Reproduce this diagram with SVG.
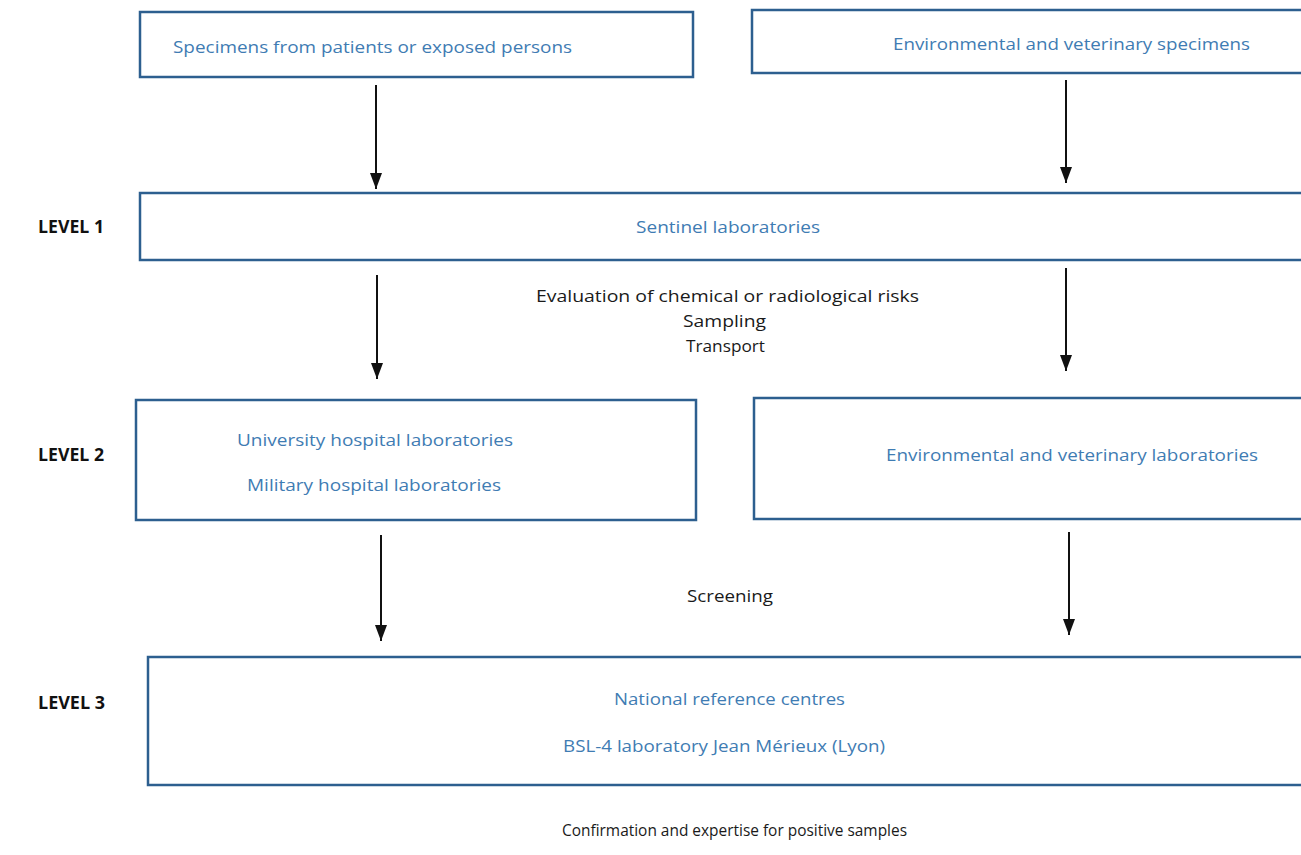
<svg xmlns="http://www.w3.org/2000/svg" width="1301" height="855" viewBox="0 0 1301 855">
<style>
.box{fill:#ffffff;stroke:#2d5f8f;stroke-width:2.5}
.lbl{font-family:"Open Sans","Liberation Sans",sans-serif;font-size:17px;fill:#3f7cb3;text-anchor:middle}
.note{font-family:"Open Sans","Liberation Sans",sans-serif;font-size:16px;fill:#1a1a1a;text-anchor:middle}
.lvl{font-family:"Open Sans","Liberation Sans",sans-serif;font-size:17px;font-weight:bold;fill:#111111}
.arr{stroke:#111111;stroke-width:2;fill:none;marker-end:url(#ah)}
</style>
<defs>
<marker id="ah" viewBox="0 0 16 12" refX="16" refY="6" markerWidth="16" markerHeight="12" markerUnits="userSpaceOnUse" orient="auto">
<path d="M0,0 L16,6 L0,12 z" fill="#111111"/>
</marker>
</defs>
<rect width="1301" height="855" fill="#ffffff"/>
<g id="n-specimens-patients">
<rect class="box" x="140" y="12" width="553" height="65"/>
<text class="lbl" x="372.5" y="53" textLength="399" lengthAdjust="spacingAndGlyphs">Specimens from patients or exposed persons</text>
</g>
<g id="n-specimens-env">
<rect class="box" x="752" y="10" width="560" height="63"/>
<text class="lbl" x="1071.5" y="50" textLength="357" lengthAdjust="spacingAndGlyphs">Environmental and veterinary specimens</text>
</g>
<g id="n-sentinel">
<rect class="box" x="140" y="193" width="1172" height="67"/>
<text class="lbl" x="728" y="233" textLength="184" lengthAdjust="spacingAndGlyphs">Sentinel laboratories</text>
</g>
<g id="n-level2-hosp">
<rect class="box" x="136" y="400" width="560" height="120"/>
<text class="lbl" x="375" y="446" textLength="276" lengthAdjust="spacingAndGlyphs">University hospital laboratories</text>
<text class="lbl" x="374" y="491" textLength="254" lengthAdjust="spacingAndGlyphs">Military hospital laboratories</text>
</g>
<g id="n-level2-env">
<rect class="box" x="754" y="398" width="560" height="121"/>
<text class="lbl" x="1072" y="461" textLength="372" lengthAdjust="spacingAndGlyphs">Environmental and veterinary laboratories</text>
</g>
<g id="n-level3">
<rect class="box" x="148" y="657" width="1164" height="128"/>
<text class="lbl" x="729.5" y="705" textLength="231" lengthAdjust="spacingAndGlyphs">National reference centres</text>
<text class="lbl" x="724" y="752" textLength="322" lengthAdjust="spacingAndGlyphs">BSL-4 laboratory Jean Mérieux (Lyon)</text>
</g>
<g id="levels">
<text class="lvl" x="38" y="233" textLength="66" lengthAdjust="spacingAndGlyphs">LEVEL 1</text>
<text class="lvl" x="38" y="461" textLength="66" lengthAdjust="spacingAndGlyphs">LEVEL 2</text>
<text class="lvl" x="38" y="709" textLength="67" lengthAdjust="spacingAndGlyphs">LEVEL 3</text>
</g>
<g id="notes">
<text class="note" x="727.5" y="302" textLength="383" lengthAdjust="spacingAndGlyphs">Evaluation of chemical or radiological risks</text>
<text class="note" x="724.5" y="327" textLength="83" lengthAdjust="spacingAndGlyphs">Sampling</text>
<text class="note" x="725.5" y="352" textLength="79" lengthAdjust="spacingAndGlyphs">Transport</text>
<text class="note" x="730" y="602" textLength="86" lengthAdjust="spacingAndGlyphs">Screening</text>
<text class="note" x="734.5" y="836" textLength="345" lengthAdjust="spacingAndGlyphs">Confirmation and expertise for positive samples</text>
</g>
<g id="connectors">
<line class="arr" x1="376" y1="85" x2="376" y2="189"/>
<line class="arr" x1="1066" y1="80" x2="1066" y2="183"/>
<line class="arr" x1="377" y1="275" x2="377" y2="379"/>
<line class="arr" x1="1066" y1="268" x2="1066" y2="371"/>
<line class="arr" x1="381" y1="535" x2="381" y2="641"/>
<line class="arr" x1="1069" y1="532" x2="1069" y2="635"/>
</g>
</svg>
